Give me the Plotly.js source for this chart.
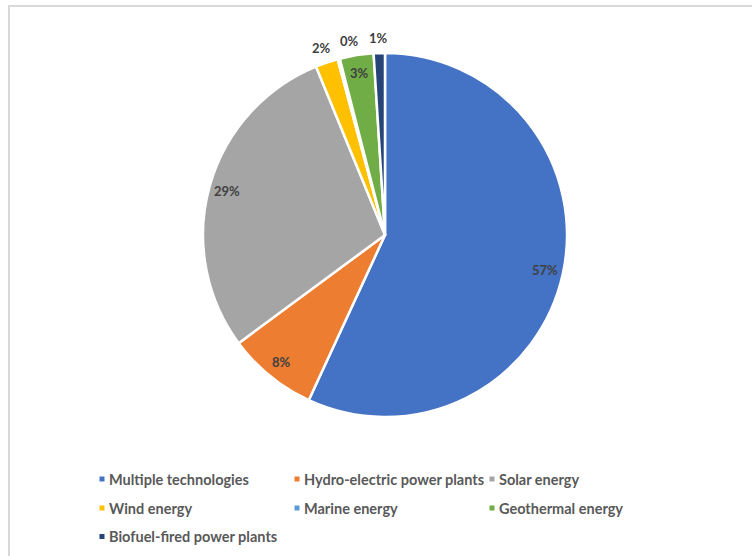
<!DOCTYPE html>
<html>
<head>
<meta charset="utf-8">
<script src="https://cdn.plot.ly/plotly-3.0.1.min.js"></script>
<style>
  html, body { margin: 0; padding: 0; background: #ffffff; }
  #wrap { position: relative; width: 752px; height: 556px; overflow: hidden; }
  #chart { position: absolute; left: 0; top: 0; width: 752px; height: 556px; }
  /* chart-area frame: only the top and left edges fall inside the window */
  #frame { position: absolute; left: 8px; top: 5px; width: 760px; height: 570px;
           border-top: 2px solid #d9d9d9; border-left: 2px solid #d9d9d9;
           pointer-events: none; }
</style>
</head>
<body>
<div id="wrap">
  <div id="chart"></div>
  <div id="frame"></div>
</div>
<script>
// Share of projects by renewable technology (percent)
const technologies = [
  'Multiple technologies',
  'Hydro-electric power plants',
  'Solar energy',
  'Wind energy',
  'Marine energy',
  'Geothermal energy',
  'Biofuel-fired power plants'
];
const shares = [57, 8, 29, 2, 0.2, 3, 1];
const sliceColors = ['#4472C4', '#ED7D31', '#A5A5A5', '#FFC000', '#5B9BD5', '#70AD47', '#264478'];
const labelOutside = [false, false, false, true, true, false, true];

const W = 752, H = 556;
const pieDomain = { x: [203 / W, 567 / W], y: [1 - 417 / H, 1 - 53 / H] };

// Data labels sit near the rim of each slice (inside) or just beyond it (outside),
// along the bisector of the slice computed from the shares. Neighbouring outside
// labels are spread apart so they do not collide.
function buildLabels() {
  const total = shares.reduce((a, b) => a + b, 0);
  const cx = (pieDomain.x[0] + pieDomain.x[1]) / 2;
  const cy = (pieDomain.y[0] + pieDomain.y[1]) / 2;
  const R = Math.min((pieDomain.x[1] - pieDomain.x[0]) * W, (pieDomain.y[1] - pieDomain.y[0]) * H) / 2;
  const outR = R + 15;
  const minGap = 29 / outR;   // minimum angular spacing between outside labels
  let cum = 0;
  let lastOutside = -Infinity;
  return shares.map((v, i) => {
    let theta = 2 * Math.PI * (cum + v / 2) / total;
    cum += v;
    let rr = R * 0.9;
    if (labelOutside[i]) {
      theta = Math.max(theta, lastOutside + minGap);
      lastOutside = theta;
      rr = outR;
    }
    return {
      xref: 'paper', yref: 'paper',
      x: cx + Math.sin(theta) * rr / W,
      y: cy + Math.cos(theta) * rr / H,
      text: Math.round(v / total * 100) + '%',
      showarrow: false,
      xanchor: 'center', yanchor: 'middle',
      font: { family: 'Lato, "Open Sans", sans-serif', size: 13, color: '#404040', weight: 'bold' }
    };
  });
}

const trace = {
  type: 'pie',
  labels: technologies,
  values: shares,
  sort: false,
  direction: 'clockwise',
  rotation: 0,
  marker: { colors: sliceColors, line: { color: '#ffffff', width: 2.5 } },
  textinfo: 'none',
  textposition: 'none',
  domain: pieDomain,
  hoverinfo: 'label+percent'
};

const layout = {
  width: W,
  height: H,
  margin: { l: 0, r: 0, t: 0, b: 0 },
  paper_bgcolor: '#ffffff',
  showlegend: true,
  annotations: buildLabels(),
  legend: {
    orientation: 'h',
    x: 0.1, xanchor: 'left',
    y: 0.18, yanchor: 'top',
    bgcolor: 'rgba(0,0,0,0)',
    font: { family: 'Lato, "Open Sans", sans-serif', size: 14.5, color: '#595959', weight: 'bold' },
    traceorder: 'normal'
  }
};

// Legend grid: three columns, small square keys close to their text
const legendCols = [102, 297, 492];
const legendRows = [479, 508, 536.5];
const keySize = 5;
const keyToText = 7;

function square(cx, half) {
  return 'M' + (cx + half) + ',' + half + 'H' + (cx - half) + 'V' + (-half) + 'H' + (cx + half) + 'Z';
}

function arrangeLegend(gd) {
  const box = gd.getBoundingClientRect();
  const scroll = gd.querySelector('.legend .scrollbox');
  if (scroll) scroll.removeAttribute('clip-path');
  const items = gd.querySelectorAll('.legend .traces');
  items.forEach((g, i) => {
    const key = g.querySelector('path.legendpie');
    const text = g.querySelector('text.legendtext');
    if (!key || !text) return;
    const half = keySize / 2;
    key.setAttribute('d', square(0, half));
    key.style.strokeWidth = '0';
    const k0 = key.getBoundingClientRect();
    const t0 = text.getBoundingClientRect();
    const shift = (t0.left - keyToText) - (k0.left + k0.width / 2);
    key.setAttribute('d', square(shift, half));

    const kb = key.getBoundingClientRect();
    const curX = kb.left + kb.width / 2 - box.left;
    const curY = kb.top + kb.height / 2 - box.top;
    const tgtX = legendCols[i % 3];
    const tgtY = legendRows[Math.floor(i / 3)];
    const m = /translate\(\s*([-\d.e]+)[ ,]+([-\d.e]+)\s*\)/.exec(g.getAttribute('transform') || '');
    const ox = m ? parseFloat(m[1]) : 0;
    const oy = m ? parseFloat(m[2]) : 0;
    g.setAttribute('transform', 'translate(' + (ox + tgtX - curX) + ',' + (oy + tgtY - curY) + ')');
  });
}

Plotly.newPlot('chart', [trace], layout, { staticPlot: true, displayModeBar: false })
  .then(arrangeLegend);
</script>
</body>
</html>
